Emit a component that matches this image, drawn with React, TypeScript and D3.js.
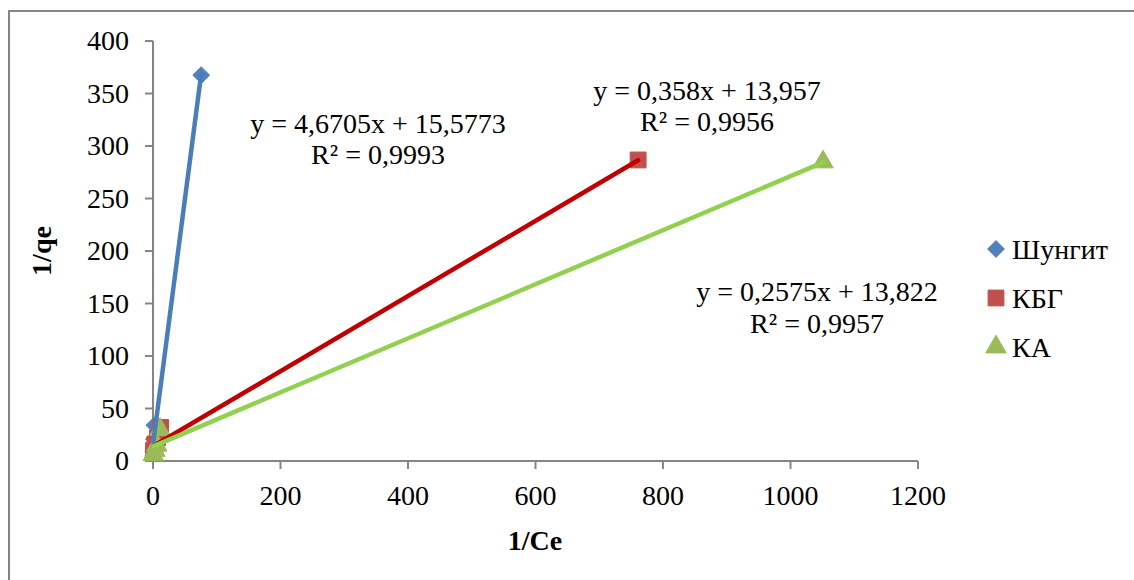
import React from "react";
import * as d3 from "d3";

// 1/Ce values (x) and 1/qe values (y) for each sorbent
const shungitX = [0.6, 1.3, 2.2, 75.6];
const shungitY = [9, 21, 34, 367.5];
const kbgX = [0.8, 3, 7, 12, 761];
const kbgY = [10, 16, 22, 32, 286.7];
const kaX = [0.5, 3, 6, 11, 1051];
const kaY = [6, 10, 15, 30, 284.8];

// Linear trendline coefficients (slope, intercept) and labels
const trendSlopes = [4.6705, 0.358, 0.2575];
const trendIntercepts = [15.5773, 13.957, 13.822];
const eqLabels = ["y = 4,6705x + 15,5773", "y = 0,358x + 13,957", "y = 0,2575x + 13,822"];
const r2Labels = ["R² = 0,9993", "R² = 0,9956", "R² = 0,9957"];
const seriesNames = ["Шунгит", "КБГ", "КА"];

const xTicks = [0, 200, 400, 600, 800, 1000, 1200];
const yTicks = [0, 50, 100, 150, 200, 250, 300, 350, 400];

const W = 1134;
const H = 580;
const FONT = "Liberation Serif, Times New Roman, serif";

const markerColors = ["#4F81BD", "#C0504D", "#9BBB59"];
const lineColors = ["#4A7EBB", "#C00000", "#92D050"];

const x = d3.scaleLinear().domain([0, 1200]).range([153, 918]);
const y = d3.scaleLinear().domain([0, 400]).range([461, 41]);

function markerPath(kind: number): string {
  if (kind === 0) return d3.symbol(d3.symbolDiamond2, 180)() || "";
  if (kind === 1) return d3.symbol(d3.symbolSquare, 250)() || "";
  return d3.symbol(d3.symbolTriangle, 180)() || "";
}

const txt: React.CSSProperties = { fontFamily: FONT, fontSize: 28 };

export default function App() {
  const xs = [shungitX, kbgX, kaX];
  const ys = [shungitY, kbgY, kaY];

  const eqPos = [
    { cx: 378, y1: 133, y2: 164 },
    { cx: 707, y1: 100, y2: 131 },
    { cx: 817, y1: 301, y2: 333 },
  ];

  const legendY = [249, 298, 347];

  return (
    <svg
      width={W}
      height={H}
      style={{ position: "absolute", left: 0, top: 0, background: "#fff" }}
    >
      <rect x={9} y={11} width={W + 20} height={H + 20} fill="#fff" stroke="#868686" strokeWidth={2} />

      {/* axes */}
      <line x1={x(0)} x2={x(0)} y1={y(0)} y2={y(400)} stroke="#868686" strokeWidth={2} />
      <line x1={x(0)} x2={x(1200)} y1={y(0)} y2={y(0)} stroke="#868686" strokeWidth={2} />
      {yTicks.map((t) => (
        <g key={"y" + t}>
          <line x1={x(0) - 8} x2={x(0)} y1={y(t)} y2={y(t)} stroke="#868686" strokeWidth={2} />
          <text x={129} y={y(t) + 9} textAnchor="end" style={txt} fill="#000">
            {t}
          </text>
        </g>
      ))}
      {xTicks.map((t) => (
        <g key={"x" + t}>
          <line x1={x(t)} x2={x(t)} y1={y(0)} y2={y(0) + 8} stroke="#868686" strokeWidth={2} />
          <text x={x(t)} y={505} textAnchor="middle" style={txt} fill="#000">
            {t}
          </text>
        </g>
      ))}

      {/* axis titles */}
      <text
        transform={`translate(51,251) rotate(-90)`}
        textAnchor="middle"
        style={{ ...txt, fontWeight: "bold" }}
        fill="#000"
      >
        1/qe
      </text>
      <text x={535} y={550} textAnchor="middle" style={{ ...txt, fontWeight: "bold" }} fill="#000">
        1/Ce
      </text>

      {/* markers */}
      {xs.map((sx, si) =>
        sx.map((vx, i) => (
          <path
            key={`m${si}-${i}`}
            d={markerPath(si)}
            transform={`translate(${x(vx)},${y(ys[si][i])})`}
            fill={markerColors[si]}
            stroke={markerColors[si]}
            strokeWidth={1}
          />
        ))
      )}

      {/* trendlines */}
      {[1, 2, 0].map((si) => {
        const lo = d3.min(xs[si]) as number;
        const hi = d3.max(xs[si]) as number;
        const f = (v: number) => trendSlopes[si] * v + trendIntercepts[si];
        return (
          <line
            key={"t" + si}
            x1={x(lo)}
            y1={y(f(lo))}
            x2={x(hi)}
            y2={y(f(hi))}
            stroke={lineColors[si]}
            strokeWidth={4.5}
            strokeLinecap="round"
          />
        );
      })}

      {/* trendline equations */}
      {eqPos.map((p, i) => (
        <g key={"eq" + i}>
          <text x={p.cx} y={p.y1} textAnchor="middle" style={txt} fill="#000">
            {eqLabels[i]}
          </text>
          <text x={p.cx} y={p.y2} textAnchor="middle" style={txt} fill="#000">
            {r2Labels[i]}
          </text>
        </g>
      ))}

      {/* legend */}
      {seriesNames.map((n, i) => (
        <g key={"lg" + i}>
          <path
            d={markerPath(i)}
            transform={`translate(996,${legendY[i]})`}
            fill={markerColors[i]}
            stroke={markerColors[i]}
            strokeWidth={1}
          />
          <text x={1012} y={legendY[i] + 10} style={txt} fill="#000">
            {n}
          </text>
        </g>
      ))}
    </svg>
  );
}
